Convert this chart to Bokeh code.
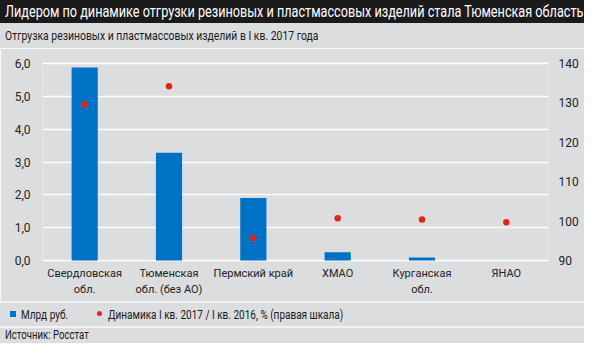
from bokeh.plotting import figure
from bokeh.models import Range1d, LinearAxis, FixedTicker, Div, ColumnDataSource
from bokeh.layouts import column
from bokeh.embed import file_html
from bokeh.resources import INLINE

# ---- data ----
regions = ["Свердловская\nобл.", "Тюменская\nобл. (без АО)", "Пермский край",
           "ХМАО", "Курганская\nобл.", "ЯНАО"]
shipments_bn = [5.88, 3.28, 1.90, 0.25, 0.09, 0.0]
dynamics_pct = [129.6, 134.2, 95.7, 100.7, 100.4, 99.7]
left_ticks = [0, 1, 2, 3, 4, 5, 6]
right_ticks = [90, 100, 110, 120, 130, 140]

title_text = "Лидером по динамике отгрузки резиновых и пластмассовых изделий стала Тюменская область"
subtitle_text = "Отгрузка резиновых и пластмассовых изделий в I кв. 2017 года"
legend_bar = "Млрд руб."
legend_dot = "Динамика I кв. 2017 / I кв. 2016, % (правая шкала)"
source_text = "Источник: Росстат"

FONT = "Roboto"
CSSFONT = "Roboto, 'Liberation Sans', sans-serif"
BG = "#dcdddf"
BLUE = "#0072c6"
RED = "#e2231a"
W = 584

src = ColumnDataSource(dict(region=regions, val=shipments_bn, dyn=dynamics_pct))

p = figure(x_range=regions, y_range=Range1d(-0.03, 6.03), width=W, height=253,
           output_backend="svg", toolbar_location=None, margin=0,
           min_border_left=42, min_border_right=36, min_border_top=14, min_border_bottom=40)
p.extra_y_ranges = {"dyn": Range1d(89.75, 140.25)}
p.background_fill_color = BG
p.border_fill_color = BG
p.outline_line_color = None

p.vbar(x="region", top="val", width=0.31, source=src, fill_color=BLUE, line_color=None)
p.scatter(x="region", y="dyn", source=src, y_range_name="dyn", size=6.5,
          fill_color=RED, line_color=None)

p.xgrid.grid_line_color = None
p.ygrid.grid_line_color = "white"
p.ygrid.grid_line_width = 1.6
p.ygrid.ticker = FixedTicker(ticks=left_ticks)

def style_axis(ax, size="12px"):
    ax.axis_line_color = None
    ax.major_tick_line_color = None
    ax.minor_tick_line_color = None
    ax.major_tick_out = 0
    ax.major_tick_in = 0
    ax.major_label_text_font = FONT
    ax.major_label_text_font_size = size
    ax.major_label_text_color = "#222222"

yl = p.yaxis[0]
yl.ticker = FixedTicker(ticks=left_ticks)
yl.major_label_overrides = {t: f"{t},0" for t in left_ticks}
yl.major_label_standoff = 12
style_axis(yl)

yr = LinearAxis(y_range_name="dyn", ticker=FixedTicker(ticks=right_ticks))
yr.major_label_standoff = 10
style_axis(yr)
p.add_layout(yr, "right")

xa = p.xaxis[0]
style_axis(xa, "11px")
xa.major_label_standoff = 5
xa.major_label_text_line_height = 1.3
xa.major_label_orientation = "horizontal"

def div(html, h, bg, color="#1a1a1a", size="12px", pad="5px"):
    st = {"background-color": bg, "color": color, "font-family": CSSFONT,
          "font-size": size, "padding-left": pad, "line-height": f"{h}px",
          "white-space": "nowrap", "box-sizing": "border-box", "overflow": "hidden",
          "margin": "0px", "height": f"{h}px"}
    return Div(text=html, width=W, height=h, styles=st, margin=0)

def squeeze(t, k):
    return (f'<span style="display:inline-block;transform:scaleX({k});'
            f'transform-origin:0 50%;white-space:nowrap">{t}</span>')

title_div = div(squeeze(title_text, 0.745), 23, "#1b1b1b", color="white", size="17px")
sub_div = div(squeeze(subtitle_text, 0.77), 25, BG, size="13.5px")
sep1 = Div(text="", width=W, height=2, margin=0, styles={"background-color": "#f2f2f2"})
legend_html = (f'<span style="position:absolute;left:10px;top:8px;width:6px;height:6px;background:{BLUE}"></span>'
               f'<span style="position:absolute;left:21px;top:0px">{squeeze(legend_bar, 0.8)}</span>'
               f'<span style="position:absolute;left:97px;top:8px;width:5px;height:5px;border-radius:50%;background:{RED}"></span>'
               f'<span style="position:absolute;left:108px;top:0px">{squeeze(legend_dot, 0.8)}</span>')
legend_div = div(legend_html, 23, BG, size="12.5px", pad="0px")
legend_div.styles = dict(legend_div.styles, position="relative")
sep2 = Div(text="", width=W, height=2, margin=0, styles={"background-color": "#f2f2f2"})
source_div = div(squeeze(source_text, 0.8), 15, BG, size="12px")

layout = column(title_div, sub_div, p, sep1, legend_div, sep2, source_div, spacing=0)

open("out.html", "w").write(file_html(layout, INLINE))
